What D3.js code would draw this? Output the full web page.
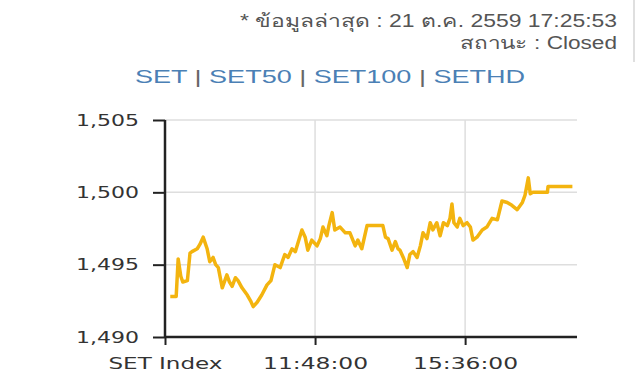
<!DOCTYPE html>
<html>
<head>
<meta charset="utf-8">
<script src="https://cdn.jsdelivr.net/npm/d3@7"></script>
<style>
  body{margin:0;background:#fff;}
  svg text{font-family:"DejaVu Sans",Verdana,sans-serif;}
</style>
</head>
<body>
<div id="chart"></div>
<script>
// header texts
var updatedText = "* ข้อมูลล่าสุด : 21 ต.ค. 2559 17:25:53";
var statusText = "สถานะ : Closed";
var indexNames = ["SET","SET50","SET100","SETHD"];

// axis ticks
var yTicks = [1490,1495,1500,1505];
var xTicks = ["08:00","11:48","15:36"];
var xTickLabels = ["SET Index","11:48:00","15:36:00"];
var xDomain = ["08:00","18:26"];
var yDomain = [1490,1505];

// SET index intraday
var times = ["08:08","08:17","08:20","08:24","08:27","08:34","08:38","08:41","08:49","08:53","08:58","09:04","09:08","09:13","09:17","09:21","09:27","09:34","09:38","09:42","09:47","09:51","09:57","10:05","10:10","10:14","10:20","10:27","10:35","10:41",
  "10:47","10:55","11:02","11:07","11:13","11:18","11:22","11:28","11:33","11:37","11:43","11:51","11:56","12:00","12:06","12:09","12:14","12:18","12:26","12:34","12:41","12:49","12:53","12:59","13:07","13:31","13:35","13:39","13:45","13:50","13:54",
  "13:57","14:02","14:08","14:12","14:17","14:23","14:28","14:32","14:38","14:43","14:47","14:53","14:58","15:03","15:09","15:13","15:16","15:19","15:24","15:28","15:33","15:39","15:44","15:48",
  "15:54","16:02","16:09","16:17","16:25","16:32","16:40","16:47","16:55","17:03","17:07","17:12","17:15","17:19","17:30","17:41","17:42","18:19"];
var values = [1492.8,1492.8,1495.4,1494.2,1493.8,1493.9,1495.8,1495.9,1496.1,1496.4,1496.9,1496.1,1495.2,1495.5,1495.0,1494.8,1493.4,1494.3,1493.8,1493.5,1494.1,1493.9,1493.4,1492.9,1492.5,1492.1,1492.4,1492.9,1493.6,1493.9,
  1495.0,1494.8,1495.7,1495.5,1496.1,1495.9,1496.5,1497.4,1496.9,1496.0,1496.7,1496.3,1496.8,1497.6,1497.0,1497.7,1498.6,1497.4,1497.6,1497.2,1497.2,1496.3,1496.7,1496.1,1497.7,1497.7,1496.9,1496.8,1496.0,1496.6,1496.1,
  1496.0,1495.5,1494.8,1495.7,1495.9,1495.5,1496.3,1497.2,1496.8,1497.9,1497.4,1497.9,1497.0,1497.9,1497.7,1498.2,1499.2,1497.9,1497.6,1498.2,1497.7,1497.9,1497.6,1496.7,
  1496.9,1497.4,1497.6,1498.2,1498.1,1499.4,1499.3,1499.1,1498.8,1499.3,1499.8,1501.0,1499.9,1500.0,1500.0,1500.0,1500.4,1500.4];

var W = 640, H = 390;
var margin = {top:120, right:63, bottom:53, left:165};
var parse = d3.timeParse("%H:%M");

var svg = d3.select("#chart").append("svg")
  .attr("width",W)
  .attr("height",H);

// header
svg.append("line")
  .attr("x1",634).attr("x2",634).attr("y1",0).attr("y2",62)
  .attr("stroke","#d4d4d4").attr("stroke-width",1.5);

svg.append("text")
  .attr("x",617).attr("y",27)
  .attr("text-anchor","end")
  .attr("fill","#555")
  .style("font-family","'Liberation Sans',Arial,'Noto Sans',sans-serif")
  .style("font-size","18px")
  .attr("textLength",377).attr("lengthAdjust","spacingAndGlyphs")
  .text(updatedText);

svg.append("text")
  .attr("x",617).attr("y",49)
  .attr("text-anchor","end")
  .attr("fill","#555")
  .style("font-family","'Liberation Sans',Arial,'Noto Sans',sans-serif")
  .style("font-size","18px")
  .attr("textLength",157).attr("lengthAdjust","spacingAndGlyphs")
  .text(statusText);

var title = svg.append("text")
  .attr("x",330).attr("y",83)
  .attr("text-anchor","middle")
  .style("font-family","'Liberation Sans',Arial,sans-serif")
  .style("font-size","18px")
  .attr("textLength",390).attr("lengthAdjust","spacingAndGlyphs");
indexNames.forEach(function(n,i){
  if(i>0){
    title.append("tspan").attr("fill","#666").text(" | ");
  }
  title.append("tspan").attr("fill","#4b80b5").text(n);
});

// scales
var x = d3.scaleTime()
  .domain(xDomain.map(parse))
  .range([margin.left, W-margin.right]);
var y = d3.scaleLinear()
  .domain(yDomain)
  .range([H-margin.bottom, margin.top]);

// grid
svg.append("g")
  .selectAll("line")
  .data(yTicks.slice(1))
  .enter().append("line")
  .attr("x1",margin.left).attr("x2",W-margin.right)
  .attr("y1",function(d){return y(d);}).attr("y2",function(d){return y(d);})
  .attr("stroke","#dedede").attr("stroke-width",1.5);

svg.append("g")
  .selectAll("line")
  .data(xTicks.slice(1))
  .enter().append("line")
  .attr("x1",function(d){return x(parse(d));}).attr("x2",function(d){return x(parse(d));})
  .attr("y1",margin.top).attr("y2",H-margin.bottom)
  .attr("stroke","#dedede").attr("stroke-width",1.5);

// axes
var yAxis = svg.append("g")
  .attr("transform","translate("+margin.left+",0)")
  .call(d3.axisLeft(y).tickValues(yTicks).tickSize(12).tickPadding(14).tickFormat(d3.format(",")));
var xAxis = svg.append("g")
  .attr("transform","translate(0,"+(H-margin.bottom)+")")
  .call(d3.axisBottom(x).tickValues(xTicks.map(parse)).tickSize(8).tickPadding(13)
    .tickFormat(function(d,i){return xTickLabels[i];}));

[yAxis,xAxis].forEach(function(a){
  a.select(".domain").attr("stroke","#222").attr("stroke-width",2.5);
  a.selectAll(".tick line").attr("stroke","#222").attr("stroke-width",2);
  a.selectAll(".tick text")
    .attr("fill","#333")
    .style("font-size","16px")
    .attr("lengthAdjust","spacingAndGlyphs");
});
yAxis.select(".domain").attr("d","M0,"+(H-margin.bottom)+"V"+margin.top);
xAxis.select(".domain").attr("d","M"+margin.left+",0H"+(W-margin.right));
yAxis.selectAll(".tick text").attr("textLength",63);
xAxis.selectAll(".tick text").attr("textLength",function(d,i){return i==0?114:105;});

// line
var line = d3.line()
  .x(function(d){return x(parse(d[0]));})
  .y(function(d){return y(d[1]);});

svg.append("path")
  .datum(d3.zip(times,values))
  .attr("fill","none")
  .attr("stroke","#f3b40f")
  .attr("stroke-width",3.5)
  .attr("stroke-linejoin","round")
  .attr("d",line);
</script>
</body>
</html>
